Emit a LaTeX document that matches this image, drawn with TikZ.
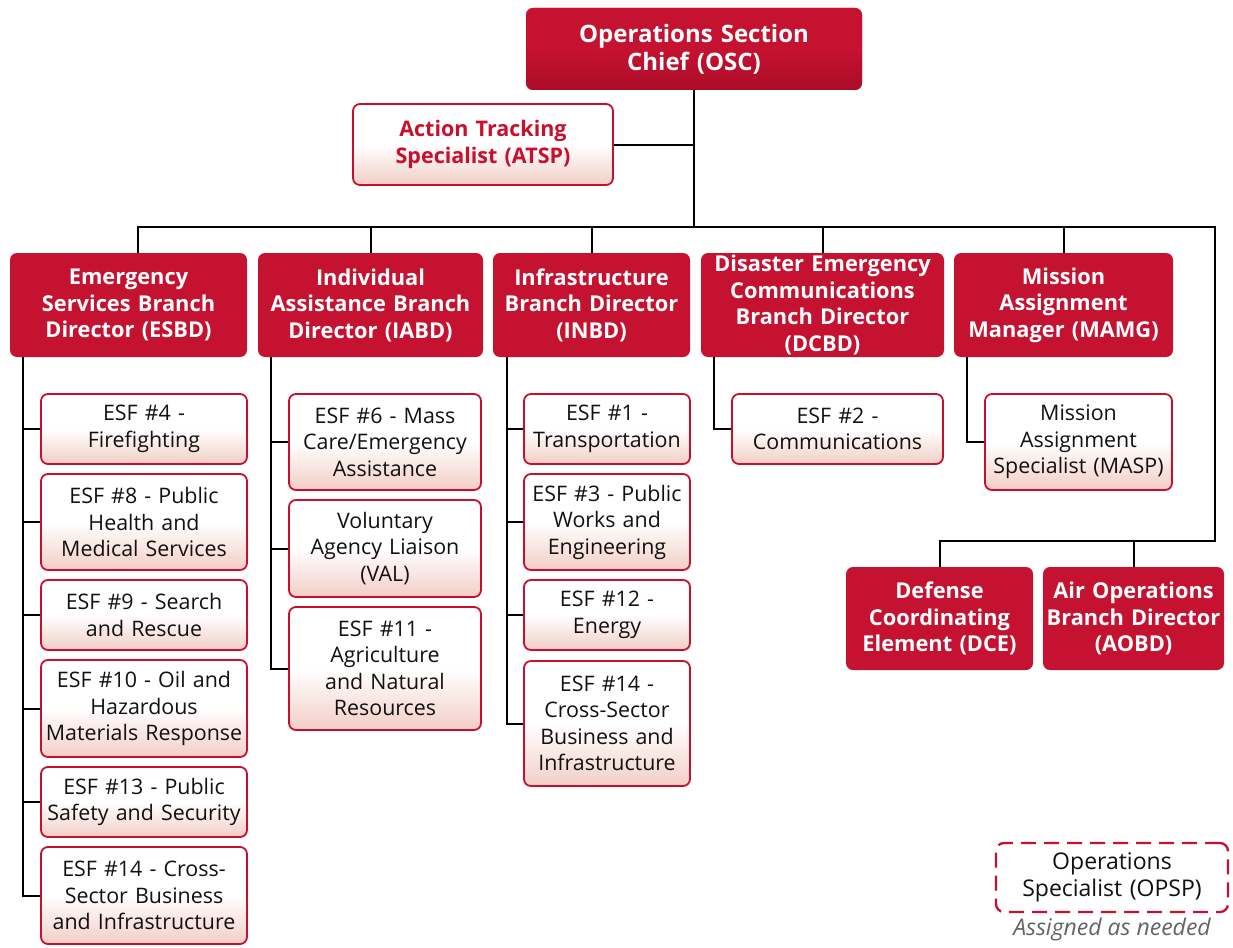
\documentclass[tikz,border=0pt]{standalone}
\usepackage{fontspec}
\setmainfont{Open Sans}
\definecolor{hred}{RGB}{197,18,48}
\definecolor{hredd}{RGB}{172,12,40}
\definecolor{bred}{RGB}{200,16,46}
\definecolor{pinkb}{RGB}{242,206,198}
\definecolor{txt}{RGB}{17,17,17}
\definecolor{notegray}{RGB}{100,100,100}
\newcommand\mybox[7]{%
  \pgfmathsetmacro\mbw{#5-#3}%
  \pgfmathsetmacro\mbh{#6-#4}%
  \pgfmathsetmacro\mbt{#5-#3-3}%
  \pgfmathsetmacro\mbx{(#3+#5)/2}%
  \pgfmathsetmacro\mby{(#4+#6)/2}%
  \node[#2, minimum width=\mbw pt, minimum height=\mbh pt, text width=\mbt pt] (#1) at (\mbx,\mby) {#7};}
\begin{document}
\begin{tikzpicture}[x=1pt,y=-1pt,
  hdr/.style={rounded corners=7, fill=hred, text=white, align=center, inner sep=0pt,
    font=\fontsize{21.8}{26.5}\selectfont\bfseries},
  oscbox/.style={hdr, top color=hred, bottom color=hredd, middle color=hred,
    font=\fontsize{24}{28}\selectfont\bfseries},
  child/.style={rounded corners=7, draw=bred, line width=1.8pt, top color=white,
    bottom color=pinkb, middle color=white, text=txt, align=center, inner sep=0pt,
    font=\fontsize{21.4}{26.5}\selectfont},
  atspbox/.style={child, text=bred, font=\fontsize{21.5}{27}\selectfont\bfseries},
  dashbox/.style={rounded corners=8, draw=bred, line width=2.3pt, dash pattern=on 15pt off 8pt,
    fill=white, text=txt, align=center, inner sep=0pt, font=\fontsize{23}{26.5}\selectfont},
  conn/.style={draw=black, line width=2pt}
]
\useasboundingbox[fill=white] (0,0) rectangle (1233,947);

% top
\mybox{osc}{oscbox}{526}{8}{862}{90}{Operations Section\\Chief (OSC)}
\mybox{atsp}{atspbox}{353}{104}{613}{185}{Action Tracking\\Specialist (ATSP)}

% branches
\mybox{esbd}{hdr}{10}{253}{247}{357}{Emergency\\Services Branch\\Director (ESBD)}
\mybox{iabd}{hdr}{258}{253}{483}{357}{Individual\\Assistance Branch\\Director (IABD)}
\mybox{inbd}{hdr}{493}{253}{690}{357}{Infrastructure\\Branch Director\\(INBD)}
\mybox{dcbd}{hdr}{701}{253}{944}{357}{Disaster Emergency\\Communications\\Branch Director\\(DCBD)}
\mybox{mamg}{hdr}{954}{253}{1173}{357}{Mission\\Assignment\\Manager (MAMG)}
\mybox{dce}{hdr}{846}{567}{1033}{670}{Defense\\Coordinating\\Element (DCE)}
\mybox{aobd}{hdr}{1043}{567}{1224}{670}{Air Operations\\Branch Director\\(AOBD)}

% ESBD children
\mybox{e4}{child}{41}{394}{247}{464}{ESF \#4 -\\Firefighting}
\mybox{e8}{child}{41}{474}{247}{570}{ESF \#8 - Public\\Health and\\Medical Services}
\mybox{e9}{child}{41}{580}{247}{650}{ESF \#9 - Search\\and Rescue}
\mybox{e10}{child}{41}{660}{247}{757}{ESF \#10 - Oil and\\Hazardous\\Materials Response}
\mybox{e13}{child}{41}{767}{247}{837}{ESF \#13 - Public\\Safety and Security}
\mybox{e14}{child}{41}{847}{247}{944}{ESF \#14 - Cross-\\Sector Business\\and Infrastructure}

% IABD children
\mybox{i6}{child}{289}{394}{481}{490}{ESF \#6 - Mass\\Care/Emergency\\Assistance}
\mybox{val}{child}{289}{500}{481}{597}{Voluntary\\Agency Liaison\\(VAL)}
\mybox{i11}{child}{289}{607}{481}{730}{ESF \#11 -\\Agriculture\\and Natural\\Resources}

% INBD children
\mybox{n1}{child}{524}{394}{690}{464}{ESF \#1 -\\Transportation}
\mybox{n3}{child}{524}{474}{690}{570}{ESF \#3 - Public\\Works and\\Engineering}
\mybox{n12}{child}{524}{580}{690}{650}{ESF \#12 -\\Energy}
\mybox{n14}{child}{524}{661}{690}{786}{ESF \#14 -\\Cross-Sector\\Business and\\Infrastructure}

% DCBD / MAMG children
\mybox{d2}{child}{732}{394}{943}{464}{ESF \#2 -\\Communications}
\mybox{masp}{child}{985}{394}{1172}{490}{Mission\\Assignment\\Specialist (MASP)}

% OPSP
\mybox{opsp}{dashbox}{996}{843}{1228}{912}{Operations\\Specialist (OPSP)}
\node[text=notegray, font=\fontsize{23}{26}\selectfont\itshape, inner sep=0pt] (note) at (1112,930) {Assigned as needed};

% connectors
\coordinate (bus) at (694,227);
\coordinate (rt) at (1215,541);
\draw[conn] (osc.south) -- (bus);
\draw[conn] (atsp.east) -- (atsp.east -| bus);
\draw[conn] ([xshift=9.5pt]esbd.north) |- (bus) -| (rt) -| (dce.north);
\draw[conn] (rt -| aobd.north) -- (aobd.north);
\foreach \b in {iabd,inbd,dcbd,mamg}{\draw[conn] (\b.north) |- (bus);}

\foreach \c in {e4,e8,e9,e10,e13,e14}{\draw[conn] ([xshift=13pt]esbd.south west) |- (\c.west);}
\foreach \c in {i6,val,i11}{\draw[conn] ([xshift=13pt]iabd.south west) |- (\c.west);}
\foreach \c in {n1,n3,n12,n14}{\draw[conn] ([xshift=14pt]inbd.south west) |- (\c.west);}
\draw[conn] ([xshift=13pt]dcbd.south west) |- (d2.west);
\draw[conn] ([xshift=13pt]mamg.south west) |- (masp.west);
\end{tikzpicture}
\end{document}
